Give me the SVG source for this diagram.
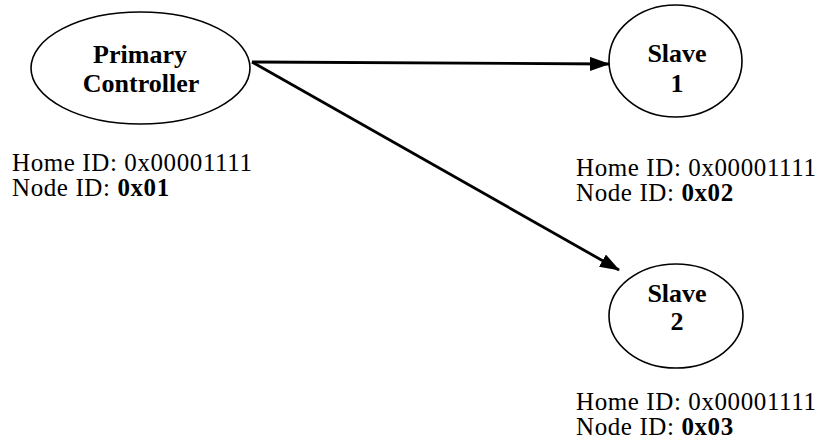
<svg xmlns="http://www.w3.org/2000/svg" width="818" height="441" viewBox="0 0 818 441">
<defs>
<marker id="arr" markerWidth="20" markerHeight="14" refX="19" refY="7" orient="auto" markerUnits="userSpaceOnUse">
<path d="M0,0 L20,7 L0,14 Z" fill="#000"/>
</marker>
<style>
.node ellipse{fill:#fff;stroke:#000;stroke-width:1.6}
.lbl{font-family:"Liberation Serif","Times New Roman",serif;font-weight:bold;font-size:26px;text-anchor:middle;fill:#000}
.info{font-family:"Liberation Serif","Times New Roman",serif;font-size:25px;letter-spacing:0.6px;fill:#000}
.info tspan.b{font-weight:bold}
.conn line{stroke:#000;stroke-width:2.8;marker-end:url(#arr)}
</style>
</defs>
<rect width="818" height="441" fill="#fff"/>
<g id="connectors" class="conn">
<line x1="252" y1="62" x2="609" y2="64"/>
<line x1="252" y1="62" x2="619" y2="270"/>
</g>
<g id="primary" class="node">
<ellipse cx="140.5" cy="68" rx="109.5" ry="56"/>
<text class="lbl" x="140" y="63">Primary</text>
<text class="lbl" x="141" y="92">Controller</text>
<text class="info" x="12" y="171">Home ID: 0x00001111</text>
<text class="info" x="12" y="196">Node ID: <tspan class="b">0x01</tspan></text>
</g>
<g id="slave1" class="node">
<ellipse cx="675.5" cy="61" rx="66.5" ry="56"/>
<text class="lbl" x="677" y="62">Slave</text>
<text class="lbl" x="677" y="92">1</text>
<text class="info" x="576" y="176">Home ID: 0x00001111</text>
<text class="info" x="576" y="201">Node ID: <tspan class="b">0x02</tspan></text>
</g>
<g id="slave2" class="node">
<ellipse cx="676" cy="316" rx="67" ry="52"/>
<text class="lbl" x="677" y="302">Slave</text>
<text class="lbl" x="677" y="330">2</text>
<text class="info" x="576" y="410">Home ID: 0x00001111</text>
<text class="info" x="576" y="435">Node ID: <tspan class="b">0x03</tspan></text>
</g>
</svg>
